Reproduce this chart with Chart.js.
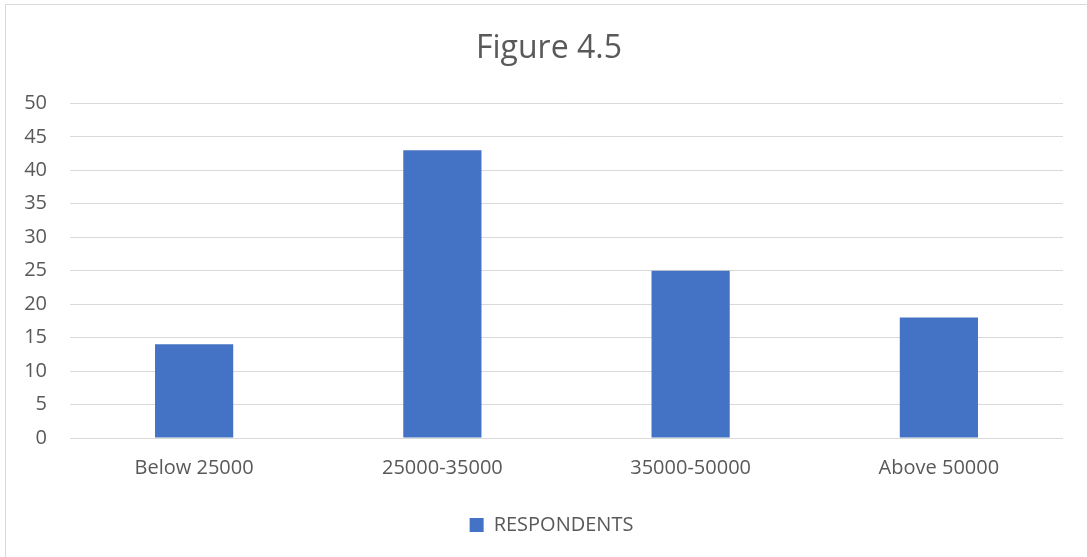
<!DOCTYPE html>
<html>
<head>
<meta charset="utf-8">
<script src="https://cdn.jsdelivr.net/npm/chart.js@4.4.1/dist/chart.umd.min.js"></script>
<style>
  html, body { margin: 0; padding: 0; background: #ffffff; overflow: hidden; }
  #frame { position: absolute; left: 5px; top: 4px; width: 1200px; height: 700px; border: 1px solid #d9d9d9; box-sizing: border-box; }
  #c { position: absolute; left: 0; top: 0; }
</style>
</head>
<body>
<div id="frame"></div>
<canvas id="c" width="1087" height="557"></canvas>
<script>
const categories = ['Below 25000', '25000-35000', '35000-50000', 'Above 50000'];
const respondents = [14, 43, 25, 18];
const seriesName = 'RESPONDENTS';
const chartTitle = 'Figure 4.5';
const yMin = 0, yMax = 50, yStep = 5;

const FONT = "'Open Sans', 'Noto Sans', sans-serif";
const TEXT = '#595959';
const GRID = '#d9d9d9';
const BLUE = '#4472c4';

// Centre title and legend on the outer chart frame rather than the padded area
const recentre = {
  id: 'recentre',
  afterLayout(chart) {
    const t = chart.titleBlock;
    if (t) { t.left += 17; t.right += 18; }
    const l = chart.legend;
    if (l) { l.left += 20; l.right += 20; l.top += 2; l.bottom += 2; }
  }
};

new Chart(document.getElementById('c'), {
  type: 'bar',
  data: {
    labels: categories,
    datasets: [{
      label: seriesName,
      data: respondents,
      backgroundColor: BLUE,
      borderWidth: 0,
      categoryPercentage: 1.0,
      barPercentage: 0.315
    }]
  },
  options: {
    responsive: false,
    devicePixelRatio: 1,
    animation: false,
    layout: { padding: { left: 0, right: 24, top: 0, bottom: 14 } },
    plugins: {
      title: {
        display: true,
        text: chartTitle,
        color: TEXT,
        font: { family: FONT, size: 32, weight: 'normal' },
        padding: { top: 30, bottom: 35 }
      },
      legend: {
        display: true,
        position: 'bottom',
        labels: {
          color: TEXT,
          font: { family: FONT, size: 20 },
          boxWidth: 14,
          boxHeight: 14,
          padding: 10
        }
      },
      tooltip: { enabled: false }
    },
    scales: {
      x: {
        grid: { display: false, drawTicks: false },
        border: { display: false },
        ticks: { color: TEXT, font: { family: FONT, size: 20 }, padding: 18, maxRotation: 0 },
        afterFit: (s) => { s.height = 65; }
      },
      y: {
        min: yMin, max: yMax,
        grid: { color: GRID, lineWidth: 1, drawTicks: false },
        border: { display: false },
        ticks: { stepSize: yStep, color: TEXT, font: { family: FONT, size: 20 }, padding: 23 },
        afterFit: (s) => { s.width = 70; }
      }
    }
  },
  plugins: [recentre]
});
</script>
</body>
</html>
